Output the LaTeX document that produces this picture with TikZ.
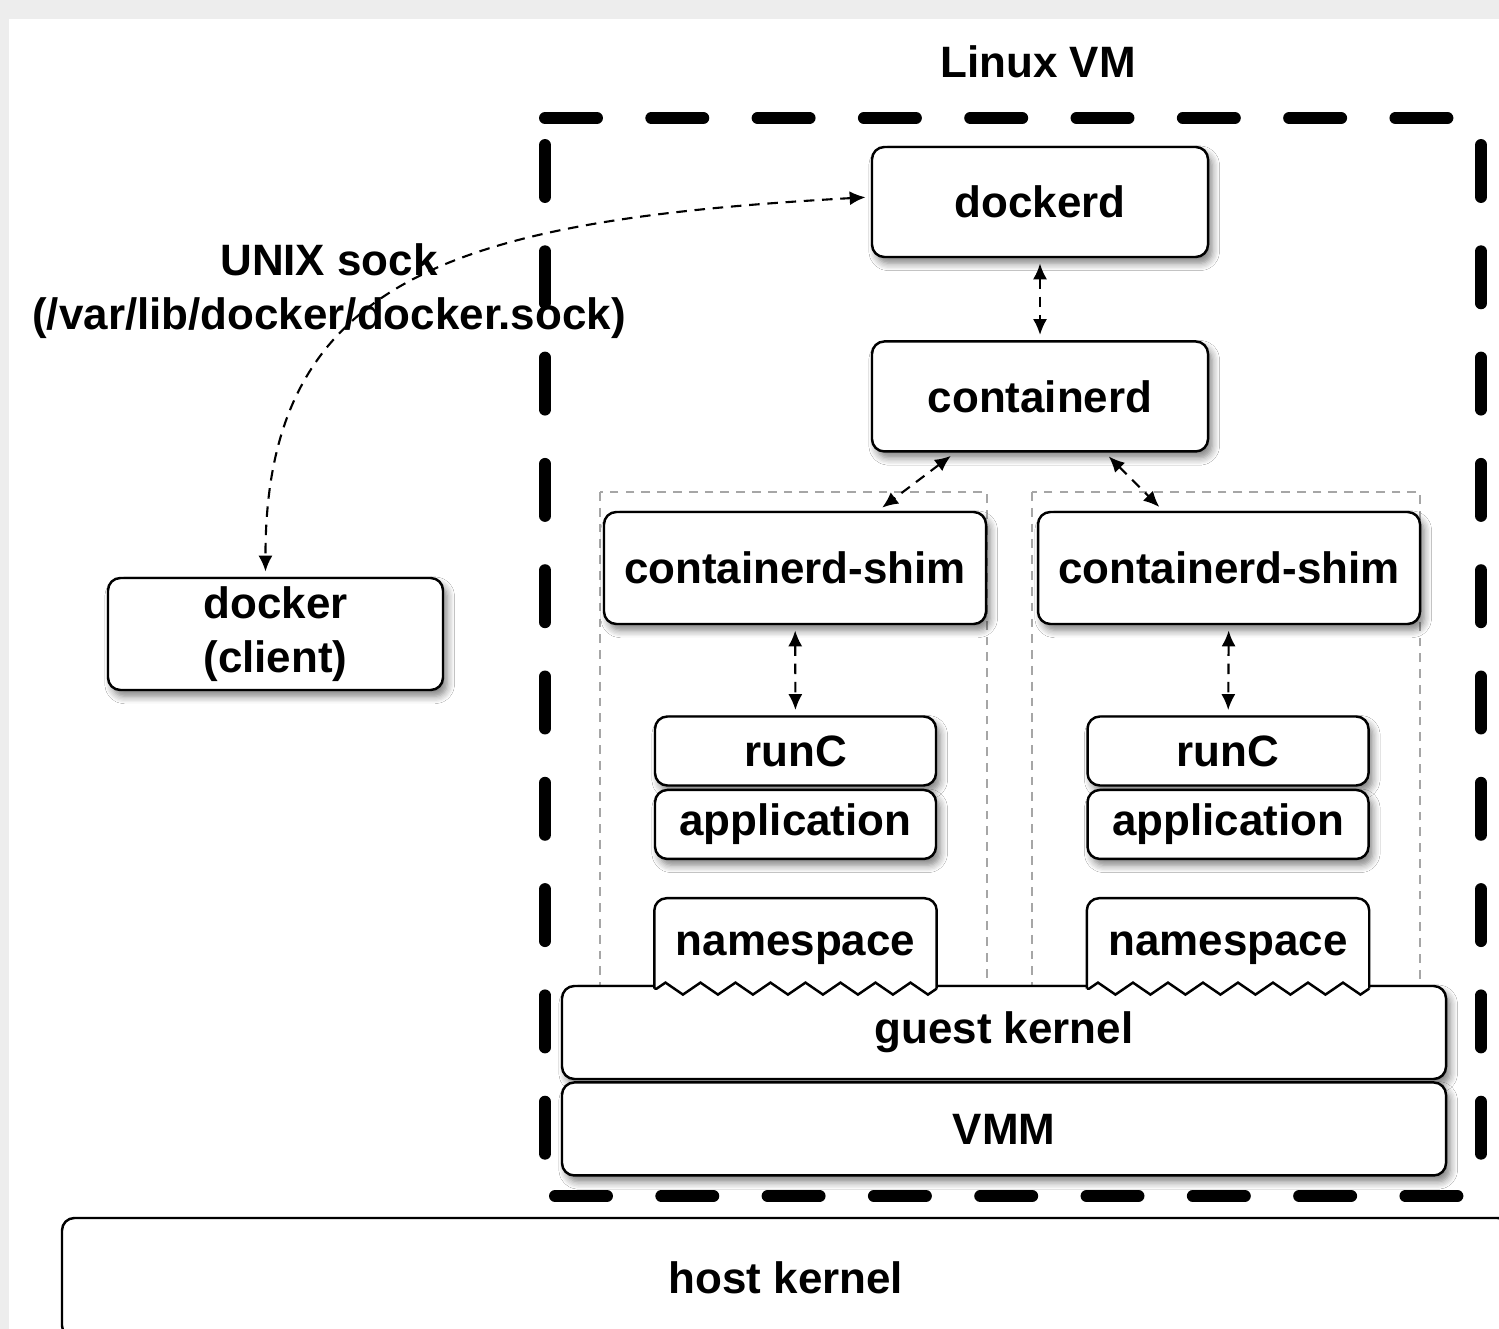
\documentclass[tikz,border=0pt]{standalone}
\usepackage{fontspec}
\setmainfont{Liberation Sans}
\usetikzlibrary{positioning,calc,arrows.meta,decorations.pathmorphing,shadows.blur}
\definecolor{edgegray}{rgb}{0.93,0.93,0.93}

\begin{document}
\begin{tikzpicture}
  [txt/.style={font=\bfseries\fontsize{12.5}{15.3}\selectfont,align=center,inner sep=0pt},
   box/.style={txt,draw,rounded corners=3.5pt,fill=white,line width=0.7pt,
     blur shadow={shadow xshift=1.2pt,shadow yshift=-1.8pt,shadow blur steps=6,shadow opacity=50}},
   bigbox/.style={box,minimum width=3.36cm,minimum height=1.10cm},
   shimbox/.style={box,minimum width=3.82cm,minimum height=1.12cm},
   smallbox/.style={box,minimum width=2.81cm,minimum height=0.69cm},
   kernbox/.style={box,minimum width=8.84cm,minimum height=0.93cm},
   nsbox/.style={txt,fill=white,minimum width=2.81cm,minimum height=0.89cm,text height=0.95em},
   link/.style={<->,>={Latex[length=4.5pt,width=4pt]},line width=0.6pt,
     dash pattern=on 3pt off 2.2pt,shorten >=1.5pt,shorten <=1.5pt},
   vmframe/.style={line width=3.4pt,line cap=round,dash pattern=on 0.52cm off 0.543cm},
   grpbox/.style={draw=gray!70,line width=0.4pt,dash pattern=on 2.5pt off 2pt},
   zig/.style={line width=0.7pt,decorate,decoration={zigzag,segment length=0.35cm,amplitude=0.06cm}}]

  \useasboundingbox (0,0) rectangle (14.99,-13.29);
  \fill[edgegray] (0,0) rectangle (14.99,-13.29);
  \fill[white] (0.09,-0.19) rectangle (14.99,-13.29);

  \node[txt] (vmlabel) at (10.38,-0.62) {Linux VM};
  \draw[vmframe] (5.45,-1.18) -- (14.65,-1.18);
  \draw[vmframe] (5.45,-1.45) -- (5.45,-11.75);
  \draw[vmframe] (14.81,-1.45) -- (14.81,-11.78);
  \draw[vmframe] (5.55,-11.96) -- (14.72,-11.96);

  \draw[grpbox] (6.00,-4.92) rectangle (9.87,-9.92);
  \draw[grpbox] (10.32,-4.92) rectangle (14.20,-9.92);

  \node[bigbox] (dockerd) at (10.40,-2.02) {dockerd};
  \node[bigbox] (containerd) [below=0.82cm of dockerd] {containerd};

  \node[shimbox] (shimL) at (7.95,-5.68) {containerd-shim};
  \node[shimbox] (shimR) at (12.29,-5.68) {containerd-shim};

  \node[smallbox] (runcL) at (7.955,-7.51) {runC};
  \node[smallbox] (appL) [below=0.02cm of runcL] {application};
  \node[smallbox] (runcR) at (12.28,-7.51) {runC};
  \node[smallbox] (appR) [below=0.02cm of runcR] {application};

  \node[kernbox] (guest) at (10.04,-10.325) {guest kernel};
  \node[kernbox] (vmm) [below=0.01cm of guest] {VMM};

  \node[nsbox] (nsL) [below=0.38cm of appL] {namespace};
  \node[nsbox] (nsR) [below=0.38cm of appR] {namespace};
  \foreach \ns in {nsL,nsR} {
    \draw[line width=0.7pt,rounded corners=3.5pt] (\ns.south west) -- (\ns.north west)
      -- (\ns.north east) -- (\ns.south east);
    \draw[zig] (\ns.south east) -- (\ns.south west);
  }

  \node[txt,draw,rounded corners=3.5pt,line width=0.7pt,minimum width=14.48cm,
    minimum height=1.2cm] (host) at (7.86,-12.78) {host kernel};

  \node[box,minimum width=3.35cm,minimum height=1.12cm] (client) at (2.755,-6.34)
    {docker\\(client)};
  \node[txt] (sock) at (3.29,-2.91) {UNIX sock\\(/var/lib/docker/docker.sock)};

  \draw[link] (dockerd) -- (containerd);
  \draw[link] ([xshift=-0.85cm]containerd.south) -- ([xshift=0.83cm]shimL.north);
  \draw[link] ([xshift=0.65cm]containerd.south) -- ([xshift=-0.66cm]shimR.north);
  \draw[link] (shimL) -- (runcL);
  \draw[link] (shimR) -- (runcR);
  \draw[link] ([yshift=0.05cm]dockerd.west) .. controls (4.6,-2.2) and (2.65,-2.75)
    .. ([xshift=-0.1cm]client.north);
\end{tikzpicture}
\end{document}
